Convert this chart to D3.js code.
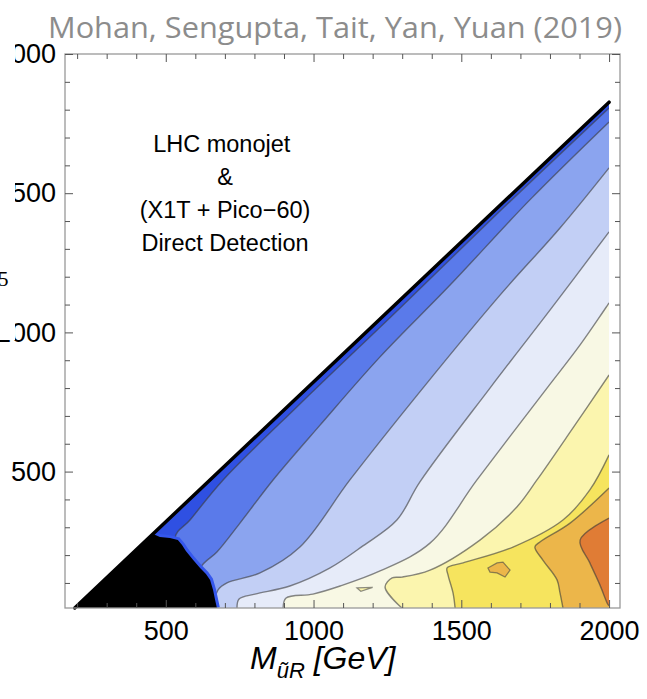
<!DOCTYPE html>
<html>
<head>
<meta charset="utf-8">
<script src="https://cdn.jsdelivr.net/npm/d3@7"></script>
<style>
  html, body { margin: 0; padding: 0; background: #fff; }
  svg { display: block; }
  .tick text { font-family: 'Liberation Sans', Arial, sans-serif; font-size: 27px; fill: #000; }
  .tick line { stroke: #555; stroke-width: 1; }
</style>
</head>
<body>
<script>
// axis ticks
const X_MAJOR = [500, 1000, 1500, 2000]
const X_MINOR = [200, 300, 400, 600, 700, 800, 900, 1100, 1200, 1300, 1400, 1600, 1700, 1800, 1900]
const Y_MAJOR = [500, 1000, 1500, 2000]
const Y_MINOR = [100, 200, 300, 400, 600, 700, 800, 900, 1100, 1200, 1300, 1400, 1600, 1700, 1800, 1900]

// allowed region (x = M_uR, y = m_chi) and the excluded (black) corner
const DIAGONAL = [[192, 10], [2000, 1827]]
const REGION = [[192, 10], [2000, 1827], [2000, 10]]
const EXCLUDED = [[192, 10], [457, 276], [480, 265], [514, 261], [541, 254], [555, 236], [568, 215],
  [592, 183], [616, 154], [636, 132], [650, 111], [660, 75], [667, 39], [673, 10]]

// contour lines, from the diagonal towards the bottom right
const CONTOUR_1 = [[643, 10], [531, 261], [582, 326], [694, 470], [954, 743], [1293, 1088], [1631, 1436], [2000, 1806]]
const CONTOUR_2 = [[600, 10], [618, 155], [673, 211], [751, 315], [863, 470], [1022, 667], [1225, 912], [1462, 1170], [1732, 1476], [2000, 1756]]
const CONTOUR_3 = [[660, 10], [677, 75], [707, 100], [819, 136], [954, 229], [1123, 470], [1370, 800], [1631, 1134], [1834, 1375], [2000, 1591]]
const CONTOUR_4 = [[741, 10], [748, 42], [802, 60], [920, 89], [1056, 154], [1167, 233], [1282, 326], [1360, 463], [1597, 800], [1800, 1080], [2000, 1361]]
const CONTOUR_5 = [[897, 10], [907, 46], [998, 60], [1090, 89], [1225, 143], [1394, 243], [1553, 470], [1790, 800], [1902, 955], [2000, 1106]]
const CONTOUR_6 = [[1299, 10], [1242, 85], [1266, 118], [1299, 121], [1394, 146], [1563, 254], [1688, 373], [1756, 470], [1878, 657], [2000, 847]]
const CONTOUR_7 = [[1479, 10], [1472, 64], [1455, 129], [1452, 154], [1506, 172], [1675, 229], [1844, 326], [1935, 434], [2000, 560]]
const CONTOUR_8 = [[1844, 10], [1834, 64], [1824, 111], [1776, 182], [1749, 229], [1766, 247], [1868, 315], [2000, 441]]
const CONTOUR_9 = [[2000, 333], [1902, 254], [1935, 172], [1969, 93], [1995, 25], [2000, 18]]
const ISLAND_6 = [[1147, 82], [1200, 84], [1160, 70]]
const ISLAND_8 = [[1590, 154], [1621, 172], [1641, 175], [1665, 146], [1648, 121], [1621, 136], [1597, 139]]

const NOTE_LINES = ['LHC monojet\u00a0', '&', '(X1T + Pico\u221260)', 'Direct Detection']

const BAND_COLORS = ['#2f50e2', '#5a7aea', '#8ba4ef', '#c2cff5', '#e6ebf9',
  '#f8f8e4', '#fbf5ae', '#f6e45e', '#ecb64a', '#e07c35']

const contours = [CONTOUR_1, CONTOUR_2, CONTOUR_3, CONTOUR_4, CONTOUR_5,
  CONTOUR_6, CONTOUR_7, CONTOUR_8, CONTOUR_9]
const islands = [
  { points: ISLAND_6, band: 6 },
  { points: ISLAND_8, band: 8 }
]

const PLOT = { LEFT: 65, RIGHT: 620, TOP: 54, BOTTOM: 608 }

const x = d3.scaleLinear().domain([159, 2037]).range([PLOT.LEFT, PLOT.RIGHT])
const y = d3.scaleLinear().domain([10, 2000]).range([PLOT.BOTTOM, PLOT.TOP])

const line = d3.line().x(d => x(d[0])).y(d => y(d[1]))
const smooth = d3.line().x(d => x(d[0])).y(d => y(d[1])).curve(d3.curveCatmullRom.alpha(0.5))

const svg = d3.select('body').append('svg')
  .attr('width', 647)
  .attr('height', 699)

svg.append('text')
  .attr('x', 335)
  .attr('y', 38)
  .attr('text-anchor', 'middle')
  .attr('textLength', 574)
  .attr('lengthAdjust', 'spacingAndGlyphs')
  .style('font-family', "'Open Sans', sans-serif")
  .style('font-size', '30px')
  .style('fill', '#8c8c8c')
  .text('Mohan, Sengupta, Tait, Yan, Yuan (2019)')

svg.append('clipPath')
  .attr('id', 'region')
  .append('path')
  .attr('d', line(REGION) + 'Z')

const plot = svg.append('g').attr('clip-path', 'url(#region)')

plot.append('path')
  .attr('d', line(REGION) + 'Z')
  .attr('fill', BAND_COLORS[0])

const corner = REGION[2]
contours.forEach((c, i) => {
  plot.append('path')
    .attr('d', smooth(c) + `L${x(corner[0])},${y(corner[1])}Z`)
    .attr('fill', BAND_COLORS[i + 1])
})

islands.forEach(d => {
  plot.append('path')
    .attr('d', line(d.points) + 'Z')
    .attr('fill', BAND_COLORS[d.band])
    .attr('stroke', '#444')
    .attr('stroke-opacity', 0.6)
    .attr('stroke-width', 1.2)
})

contours.forEach(c => {
  plot.append('path')
    .attr('d', smooth(c))
    .attr('fill', 'none')
    .attr('stroke', '#3a3a3a')
    .attr('stroke-opacity', 0.6)
    .attr('stroke-width', 1.4)
})

// thin blue fringe along the excluded corner
svg.append('path')
  .attr('d', line(EXCLUDED.slice(1)))
  .attr('fill', 'none')
  .attr('stroke', '#3557ec')
  .attr('stroke-width', 6)
  .attr('clip-path', 'url(#region)')

svg.append('path')
  .attr('d', line(EXCLUDED) + 'Z')
  .attr('fill', '#000')

svg.append('path')
  .attr('d', line(DIAGONAL))
  .attr('stroke', '#000')
  .attr('stroke-width', 3.5)
  .attr('stroke-linecap', 'round')

// frame and ticks
svg.append('rect')
  .attr('x', PLOT.LEFT)
  .attr('y', PLOT.TOP)
  .attr('width', PLOT.RIGHT - PLOT.LEFT)
  .attr('height', PLOT.BOTTOM - PLOT.TOP)
  .attr('fill', 'none')
  .attr('stroke', '#999')
  .attr('stroke-width', 1.3)

const addAxis = (axis, transform) => {
  const g = svg.append('g').attr('transform', transform).call(axis)
  g.select('.domain').remove()
  return g
}

addAxis(d3.axisBottom(x).tickValues(X_MAJOR).tickSize(-8).tickPadding(13).tickFormat(d3.format('d')),
  `translate(0,${PLOT.BOTTOM})`)
addAxis(d3.axisBottom(x).tickValues(X_MINOR).tickSize(-5).tickFormat(''), `translate(0,${PLOT.BOTTOM})`)
addAxis(d3.axisTop(x).tickValues(X_MAJOR).tickSize(-8).tickFormat(''), `translate(0,${PLOT.TOP})`)
addAxis(d3.axisTop(x).tickValues(X_MINOR).tickSize(-5).tickFormat(''), `translate(0,${PLOT.TOP})`)
addAxis(d3.axisLeft(y).tickValues(Y_MAJOR).tickSize(-8).tickPadding(9).tickFormat(d3.format('d')),
  `translate(${PLOT.LEFT},0)`)
addAxis(d3.axisLeft(y).tickValues(Y_MINOR).tickSize(-5).tickFormat(''), `translate(${PLOT.LEFT},0)`)
addAxis(d3.axisRight(y).tickValues(Y_MAJOR).tickSize(-8).tickFormat(''), `translate(${PLOT.RIGHT},0)`)
addAxis(d3.axisRight(y).tickValues(Y_MINOR).tickSize(-5).tickFormat(''), `translate(${PLOT.RIGHT},0)`)

// the y label is cropped away in the source figure
svg.append('rect')
  .attr('x', 0)
  .attr('y', 40)
  .attr('width', 15)
  .attr('height', 300)
  .attr('fill', '#fff')
svg.append('text')
  .attr('x', -2)
  .attr('y', 286)
  .style('font-family', "'Liberation Serif', serif")
  .style('font-size', '21px')
  .text('5')

// x axis title
const xTitle = svg.append('text')
  .attr('x', 250)
  .attr('y', 669)
  .style('font-family', "'Liberation Sans', Arial, sans-serif")
  .style('font-size', '32px')
  .style('font-style', 'italic')
xTitle.append('tspan').text('M')
xTitle.append('tspan').attr('dy', 9).style('font-size', '22px').text('\u0169R')
xTitle.append('tspan').attr('dy', -9).text(' [GeV]')

// annotation
svg.append('g')
  .selectAll('text')
  .data(NOTE_LINES)
  .join('text')
  .attr('x', 225)
  .attr('y', (d, i) => 152 + i * 33)
  .attr('text-anchor', 'middle')
  .style('font-family', "'Liberation Sans', Arial, sans-serif")
  .style('font-size', '23.5px')
  .text(d => d)
</script>
</body>
</html>
